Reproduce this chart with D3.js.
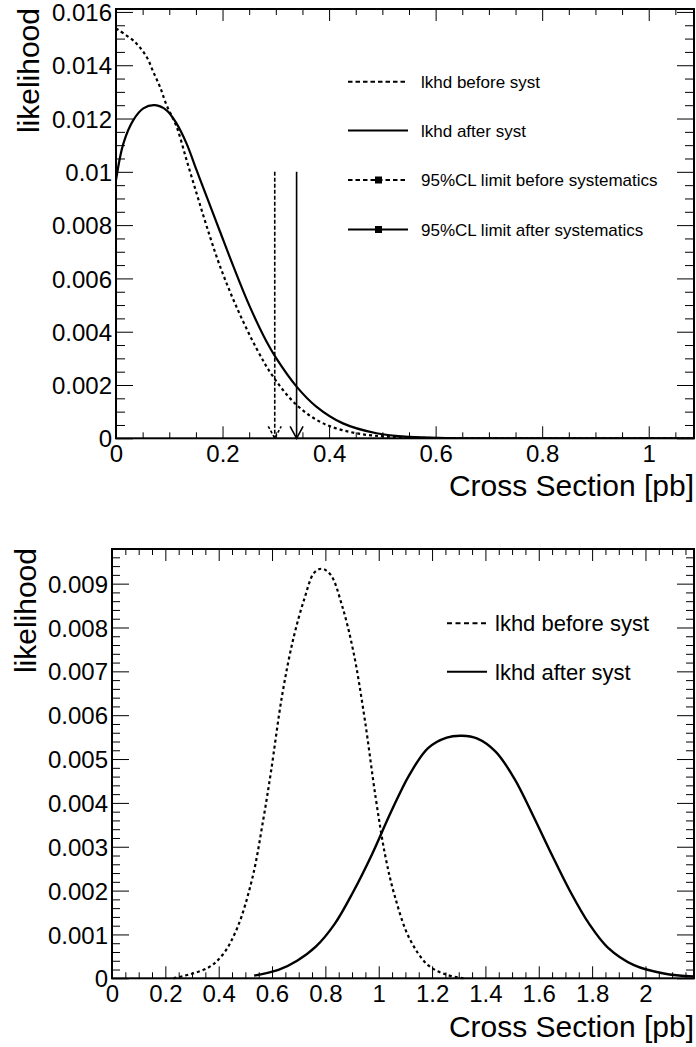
<!DOCTYPE html>
<html><head><meta charset="utf-8">
<script src="https://cdn.jsdelivr.net/npm/d3@7"></script>
<style>
html,body{margin:0;padding:0;background:#fff;}
svg{display:block;font-family:"Liberation Sans",Arial,Helvetica,sans-serif;}
</style></head>
<body>
<script>
// ---------- data: top panel ----------
const topBeforeX = [0,0.0356,0.0575,0.07,0.0825,0.095,0.1138,0.1325,0.1513,0.17,0.195,0.226,0.264,0.295,0.339,0.389,0.451,0.52,0.6,0.7,0.85,1.085];
const topBeforeY = [0.01538,0.01487,0.01431,0.01375,0.01319,0.0125,0.01169,0.01044,0.00919,0.00797,0.00647,0.00494,0.00336,0.00231,0.00125,0.00056,0.00019,0.00005,0.00001,0,0,0];
const topAfterX = [0,0.0138,0.0325,0.0513,0.0731,0.095,0.1138,0.1325,0.1513,0.17,0.195,0.22,0.251,0.2825,0.301,0.339,0.376,0.426,0.489,0.551,0.62,0.7,0.85,1.085];
const topAfterY = [0.00969,0.01106,0.01194,0.01238,0.0125,0.01231,0.01181,0.01106,0.01006,0.00908,0.00777,0.00647,0.00495,0.00363,0.003,0.00194,0.00119,0.00056,0.00019,0.00005,0.00001,0,0,0];
const limitBefore = 0.298;
const limitAfter = 0.339;
const limitTop = 0.01;
const topXTicks = [0,0.2,0.4,0.6,0.8,1];
const topXTickLabels = ["0","0.2","0.4","0.6","0.8","1"];
const topYTicks = [0,0.002,0.004,0.006,0.008,0.01,0.012,0.014,0.016];
const topYTickLabels = ["0","0.002","0.004","0.006","0.008","0.01","0.012","0.014","0.016"];
const topLegend = ["lkhd before syst","lkhd after syst","95%CL limit before systematics","95%CL limit after systematics"];

// ---------- data: bottom panel ----------
const botBeforeX = [0.231,0.357,0.414,0.469,0.526,0.568,0.596,0.638,0.680,0.722,0.757,0.786,0.820,0.862,0.905,0.947,0.989,1.024,1.059,1.115,1.185,1.255,1.32];
const botBeforeY = [0,0.00023,0.00053,0.00114,0.00228,0.00365,0.00471,0.00646,0.00775,0.00867,0.00924,0.00934,0.0092,0.00851,0.00745,0.00593,0.0041,0.00281,0.0019,0.00091,0.0003,0.00008,0];
const botAfterX = [0.533,0.624,0.694,0.764,0.835,0.905,0.975,1.045,1.115,1.185,1.255,1.312,1.368,1.438,1.508,1.578,1.648,1.718,1.789,1.859,1.957,2.069,2.182];
const botAfterY = [0.00006,0.00019,0.00040,0.00072,0.00124,0.00198,0.00283,0.00378,0.00464,0.00525,0.00549,0.00553,0.00547,0.00517,0.00456,0.00372,0.00283,0.00198,0.00124,0.00070,0.0003,0.00011,0.00004];
const botXTicks = [0,0.2,0.4,0.6,0.8,1,1.2,1.4,1.6,1.8,2];
const botXTickLabels = ["0","0.2","0.4","0.6","0.8","1","1.2","1.4","1.6","1.8","2"];
const botYTicks = [0,0.001,0.002,0.003,0.004,0.005,0.006,0.007,0.008,0.009];
const botYTickLabels = ["0","0.001","0.002","0.003","0.004","0.005","0.006","0.007","0.008","0.009"];
const botLegend = ["lkhd before syst","lkhd after syst"];

const xTitle = "Cross Section [pb]";
const yTitle = "likelihood";

const W = 696, H = 1047;
const svg = d3.select("body").append("svg").attr("width", W).attr("height", H);

function range(a, b, step){ const out=[]; const n=Math.round((b-a)/step); for(let i=0;i<=n;i++) out.push(+(a+i*step).toFixed(6)); return out; }

function panel(cfg){
  const g = svg.append("g");
  const x = d3.scaleLinear().domain(cfg.xDom).range([cfg.left, cfg.right]);
  const y = d3.scaleLinear().domain(cfg.yDom).range([cfg.bottom, cfg.top]);
  const xMinor = range(0, cfg.xDom[1], cfg.xMinorStep).filter(v => !cfg.xTicks.some(t => Math.abs(t-v)<1e-6));
  const yMinor = range(0, cfg.yDom[1], cfg.yMinorStep).filter(v => !cfg.yTicks.some(t => Math.abs(t-v)<1e-9));

  const styleAxis = sel => { sel.select(".domain").remove(); sel.selectAll("line").attr("stroke","#000").attr("stroke-width",1); };

  g.append("g").attr("transform",`translate(${cfg.left},0)`)
    .call(d3.axisLeft(y).tickValues(cfg.yTicks).tickSize(-cfg.yMaj).tickPadding(cfg.yPad)
      .tickFormat((d,i)=>cfg.yLabels[i]))
    .call(styleAxis)
    .call(s=>s.selectAll("text").attr("fill","#000").attr("font-size",cfg.tickFont).attr("font-family",null).attr("dy","0.36em"));
  g.append("g").attr("transform",`translate(${cfg.left},0)`)
    .call(d3.axisLeft(y).tickValues(yMinor).tickSize(-cfg.yMin).tickFormat("")).call(styleAxis);
  g.append("g").attr("transform",`translate(${cfg.right},0)`)
    .call(d3.axisRight(y).tickValues(cfg.yTicks).tickSize(-cfg.yMaj).tickFormat("")).call(styleAxis);
  g.append("g").attr("transform",`translate(${cfg.right},0)`)
    .call(d3.axisRight(y).tickValues(yMinor).tickSize(-cfg.yMin).tickFormat("")).call(styleAxis);
  g.append("g").attr("transform",`translate(0,${cfg.bottom})`)
    .call(d3.axisBottom(x).tickValues(cfg.xTicks).tickSize(-cfg.xMaj).tickPadding(cfg.xPad)
      .tickFormat((d,i)=>cfg.xLabels[i]))
    .call(styleAxis)
    .call(s=>s.selectAll("text").attr("fill","#000").attr("font-size",cfg.tickFont).attr("font-family",null));
  g.append("g").attr("transform",`translate(0,${cfg.bottom})`)
    .call(d3.axisBottom(x).tickValues(xMinor).tickSize(-cfg.xMin).tickFormat("")).call(styleAxis);
  g.append("g").attr("transform",`translate(0,${cfg.top})`)
    .call(d3.axisTop(x).tickValues(cfg.xTicks).tickSize(-cfg.xMaj).tickFormat("")).call(styleAxis);
  g.append("g").attr("transform",`translate(0,${cfg.top})`)
    .call(d3.axisTop(x).tickValues(xMinor).tickSize(-cfg.xMin).tickFormat("")).call(styleAxis);

  g.append("rect").attr("x",cfg.left).attr("y",cfg.top).attr("width",cfg.right-cfg.left).attr("height",cfg.bottom-cfg.top)
    .attr("fill","none").attr("stroke","#000").attr("stroke-width",2);

  g.append("text").attr("x",cfg.right).attr("y",cfg.xTitleY).attr("text-anchor","end")
    .attr("font-size",cfg.titleFont).attr("fill","#000").text(xTitle);
  g.append("text").attr("transform",`translate(${cfg.yTitleX},${cfg.top-1}) rotate(-90)`).attr("text-anchor","end")
    .attr("font-size",cfg.titleFont).attr("fill","#000").text(yTitle);

  return {g,x,y};
}

const lineGen = (x,y) => d3.line().x(d=>x(d[0])).y(d=>y(Math.max(0,d[1]))).curve(d3.curveCatmullRom.alpha(0.5));

// ---------------- TOP ----------------
const T = panel({left:116,right:694,top:9,bottom:438.3,xDom:[0,1.085],yDom:[0,0.01611],
  xTicks:topXTicks,xLabels:topXTickLabels,yTicks:topYTicks,yLabels:topYTickLabels,
  xMinorStep:0.05,yMinorStep:0.0005,yMaj:17,yMin:9,xMaj:12,xMin:6,yPad:4,xPad:7,
  tickFont:24,titleFont:30,xTitleY:496,yTitleX:39});

T.g.append("clipPath").attr("id","clipT").append("rect").attr("x",116).attr("y",9).attr("width",578).attr("height",429.3);
T.g.append("path").datum(topBeforeX.map((v,i)=>[v,topBeforeY[i]])).attr("d",lineGen(T.x,T.y))
  .attr("fill","none").attr("stroke","#000").attr("stroke-width",2.2).attr("stroke-dasharray","3,3").attr("clip-path","url(#clipT)");
T.g.append("path").datum(topAfterX.map((v,i)=>[v,topAfterY[i]])).attr("d",lineGen(T.x,T.y))
  .attr("fill","none").attr("stroke","#000").attr("stroke-width",2.2).attr("clip-path","url(#clipT)");

[[limitBefore,"4,2"],[limitAfter,null]].forEach(([v,dash])=>{
  const xx = T.x(v), y0 = T.y(0), y1 = T.y(limitTop);
  const l = T.g.append("line").attr("x1",xx).attr("x2",xx).attr("y1",y1).attr("y2",y0)
    .attr("stroke","#000").attr("stroke-width",1.6);
  const a = T.g.append("path").attr("d",`M${xx-6.5},${y0-12}L${xx},${y0}L${xx+6.5},${y0-12}`)
    .attr("fill","none").attr("stroke","#000").attr("stroke-width",1.6);
  if(dash){ l.attr("stroke-dasharray",dash); a.attr("stroke-dasharray","3,2"); }
});

const tl = T.g.append("g");
const tlRows = [81.7,130.5,180,229.5];
topLegend.forEach((t,i)=>{
  const yy = tlRows[i];
  const ln = tl.append("line").attr("x1",348).attr("x2",408).attr("y1",yy).attr("y2",yy)
    .attr("stroke","#000").attr("stroke-width",2);
  if(i===0 || i===2) ln.attr("stroke-dasharray","4.5,3");
  if(i>=2) tl.append("rect").attr("x",375).attr("y",yy-3.5).attr("width",7).attr("height",7).attr("fill","#000");
  tl.append("text").attr("x",421).attr("y",yy).attr("dy","0.36em").attr("font-size",17).attr("fill","#000").text(t);
});

// ---------------- BOTTOM ----------------
const B = panel({left:112,right:694,top:549,bottom:978.3,xDom:[0,2.182],yDom:[0,0.00979],
  xTicks:botXTicks,xLabels:botXTickLabels,yTicks:botYTicks,yLabels:botYTickLabels,
  xMinorStep:0.05,yMinorStep:0.0002,yMaj:17,yMin:8,xMaj:12,xMin:6,yPad:4,xPad:7,
  tickFont:24,titleFont:30,xTitleY:1037,yTitleX:36});

B.g.append("path").datum(botBeforeX.map((v,i)=>[v,botBeforeY[i]])).attr("d",lineGen(B.x,B.y))
  .attr("fill","none").attr("stroke","#000").attr("stroke-width",2.2).attr("stroke-dasharray","3,3");
B.g.append("path").datum(botAfterX.map((v,i)=>[v,botAfterY[i]])).attr("d",lineGen(B.x,B.y))
  .attr("fill","none").attr("stroke","#000").attr("stroke-width",2.4);

const bl = B.g.append("g");
const blRows = [623.3,671.7];
botLegend.forEach((t,i)=>{
  const yy = blRows[i];
  const ln = bl.append("line").attr("x1",447).attr("x2",487).attr("y1",yy).attr("y2",yy)
    .attr("stroke","#000").attr("stroke-width",2);
  if(i===0) ln.attr("stroke-dasharray","5,3.5");
  bl.append("text").attr("x",495).attr("y",yy).attr("dy","0.36em").attr("font-size",22).attr("fill","#000").text(t);
});
</script>
</body></html>
